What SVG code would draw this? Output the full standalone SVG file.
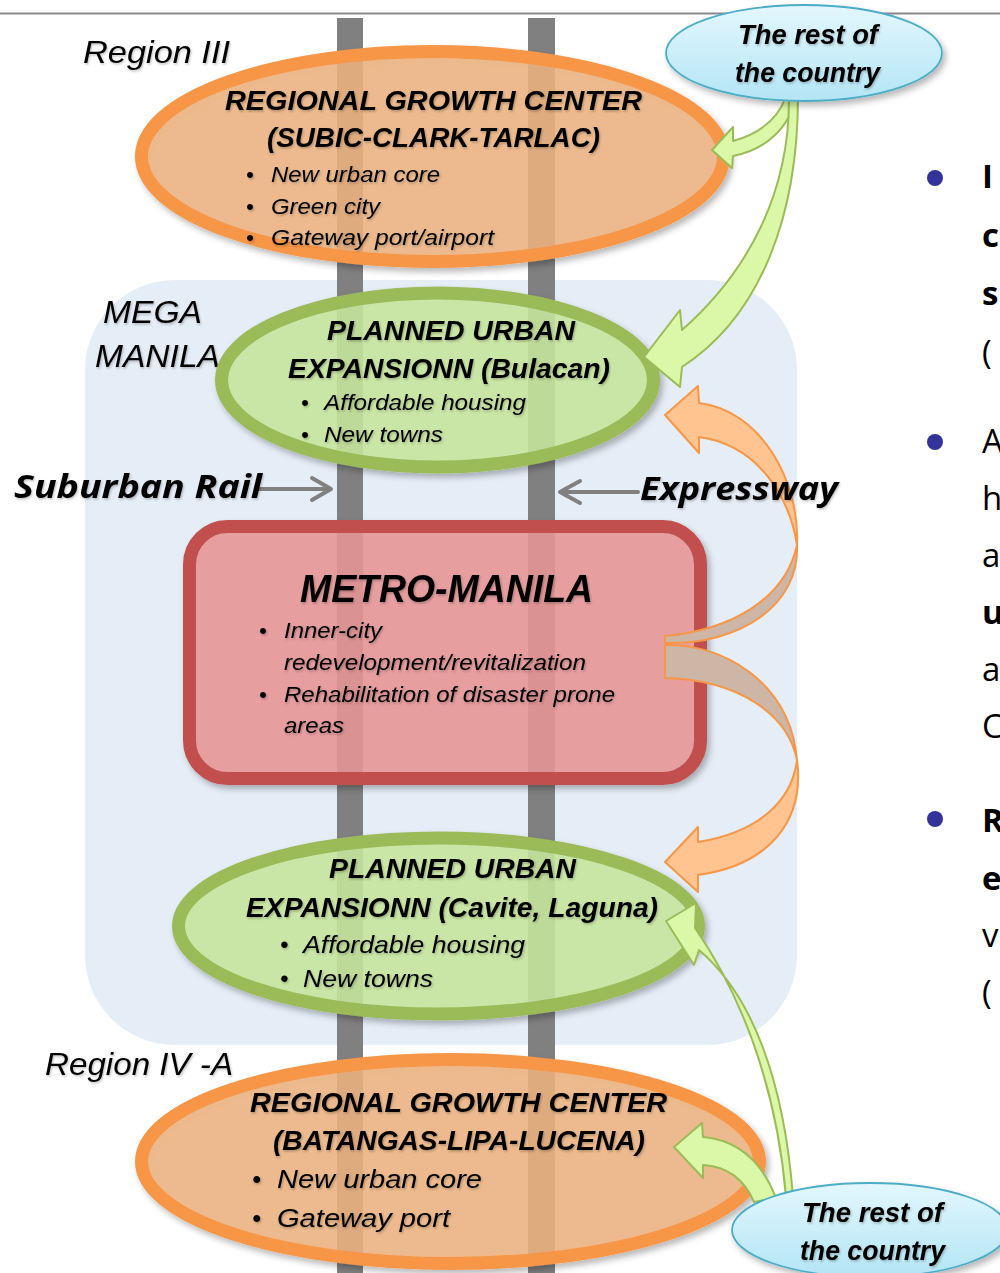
<svg xmlns="http://www.w3.org/2000/svg" width="1000" height="1273" viewBox="0 0 1000 1273">
<defs>
<style>
.t{font-family:"Liberation Sans",Arial,sans-serif;font-style:italic;fill:#000}
.ti{font-weight:bold;font-size:27px}
.lb{font-size:32px}
.b{font-size:22px}
.rail{fill:#808080}
.lbl2{font-family:"Open Sans","Noto Sans",sans-serif;font-style:italic;font-weight:bold;font-size:33px;fill:#000}
.side{font-family:"Open Sans","DejaVu Sans",sans-serif;font-size:33px;fill:#000}
.sb{font-weight:bold}
.garrow{fill:#DAF8A8;stroke:#9BBB59;stroke-width:2;stroke-linejoin:round}
.oarrow{stroke:#F79646;stroke-width:2;stroke-linejoin:round}
.ptr{fill:none;stroke:#808080;stroke-width:4;stroke-linecap:round;stroke-linejoin:round}
.oell{fill:#EFB481;fill-opacity:0.85;stroke:#F79646;stroke-width:13}
.gell{fill:#CAEA9F;fill-opacity:0.85;stroke:#9BBB59;stroke-width:13}
.bell{fill:url(#blue);stroke:#4BACC6;stroke-width:1.8}
.dot{fill:#333399}
</style>
<filter id="sh" x="-10%" y="-10%" width="125%" height="130%"><feDropShadow dx="3" dy="4" stdDeviation="3" flood-color="#000" flood-opacity="0.28"/></filter>
<filter id="ts" x="-5%" y="-20%" width="115%" height="150%"><feDropShadow dx="1" dy="1.5" stdDeviation="0.8" flood-color="#000" flood-opacity="0.25"/></filter>
<linearGradient id="blue" x1="0" y1="0" x2="0" y2="1"><stop offset="0" stop-color="#E3F7FD"/><stop offset="1" stop-color="#B3E5F5"/></linearGradient>
<linearGradient id="og1" gradientUnits="userSpaceOnUse" x1="0" y1="380" x2="0" y2="650"><stop offset="0" stop-color="#FFC48F"/><stop offset="0.56" stop-color="#FFC48F"/><stop offset="0.62" stop-color="#CDB6A5"/><stop offset="1" stop-color="#CDB6A5"/></linearGradient>
<linearGradient id="og2" gradientUnits="userSpaceOnUse" x1="0" y1="640" x2="0" y2="900"><stop offset="0" stop-color="#CDB6A5"/><stop offset="0.44" stop-color="#CDB6A5"/><stop offset="0.5" stop-color="#FFC48F"/><stop offset="1" stop-color="#FFC48F"/></linearGradient>
</defs>
<rect x="0" y="0" width="1000" height="1273" fill="#fff"/>
<line x1="0" y1="13.5" x2="1000" y2="13.5" stroke="#8a8a8a" stroke-width="2"/>

<g id="mega-manila">
<rect x="85" y="280" width="712" height="765" rx="90" fill="#E5EDF7"/>
</g>

<g id="rails">
<rect class="rail" x="337" y="18" width="26" height="1255"/>
<rect class="rail" x="528" y="18" width="27" height="1255"/>
</g>

<g id="region-labels" filter="url(#ts)">
<text class="t lb" x="83" y="63" textLength="147" lengthAdjust="spacingAndGlyphs">Region III</text>
<text class="t lb" x="103" y="323" textLength="99" lengthAdjust="spacingAndGlyphs">MEGA</text>
<text class="t lb" x="95" y="367" textLength="125" lengthAdjust="spacingAndGlyphs">MANILA</text>
<text class="t lb" x="45" y="1075" textLength="188" lengthAdjust="spacingAndGlyphs">Region IV -A</text>
</g>

<g id="rgc-north">
<ellipse class="oell" cx="432.5" cy="156.5" rx="291" ry="105" filter="url(#sh)"/>
<g filter="url(#ts)">
<text class="t ti" x="225" y="110" textLength="417" lengthAdjust="spacingAndGlyphs">REGIONAL GROWTH CENTER</text>
<text class="t ti" x="267" y="147" textLength="333" lengthAdjust="spacingAndGlyphs">(SUBIC-CLARK-TARLAC)</text>
<text class="t b" x="246" y="182">•</text>
<text class="t b" x="271" y="182" textLength="169" lengthAdjust="spacingAndGlyphs">New urban core</text>
<text class="t b" x="246" y="214">•</text>
<text class="t b" x="271" y="214" textLength="109" lengthAdjust="spacingAndGlyphs">Green city</text>
<text class="t b" x="246" y="245">•</text>
<text class="t b" x="271" y="245" textLength="223" lengthAdjust="spacingAndGlyphs">Gateway port/airport</text>
</g>
</g>

<g id="pue-bulacan">
<ellipse class="gell" cx="437.5" cy="380" rx="216" ry="87" filter="url(#sh)"/>
<g filter="url(#ts)">
<text class="t ti" x="327" y="340" textLength="248" lengthAdjust="spacingAndGlyphs">PLANNED URBAN</text>
<text class="t ti" x="288" y="378" textLength="322" lengthAdjust="spacingAndGlyphs">EXPANSIONN (Bulacan)</text>
<text class="t b" x="301" y="410">•</text>
<text class="t b" x="324" y="410" textLength="202" lengthAdjust="spacingAndGlyphs">Affordable housing</text>
<text class="t b" x="301" y="442">•</text>
<text class="t b" x="324" y="442" textLength="119" lengthAdjust="spacingAndGlyphs">New towns</text>
</g>
</g>

<g id="metro-manila">
<rect x="189.5" y="526.5" width="511" height="252" rx="38" fill="#EB9697" fill-opacity="0.85" stroke="#C0504D" stroke-width="13" filter="url(#sh)"/>
<g filter="url(#ts)">
<text class="t" x="300" y="602" font-size="38" font-weight="bold" textLength="293" lengthAdjust="spacingAndGlyphs">METRO-MANILA</text>
<text class="t b" x="259" y="638">•</text>
<text class="t b" x="284" y="638" textLength="98" lengthAdjust="spacingAndGlyphs">Inner-city</text>
<text class="t b" x="284" y="670" textLength="302" lengthAdjust="spacingAndGlyphs">redevelopment/revitalization</text>
<text class="t b" x="259" y="702">•</text>
<text class="t b" x="284" y="702" textLength="331" lengthAdjust="spacingAndGlyphs">Rehabilitation of disaster prone</text>
<text class="t b" x="284" y="733" textLength="60" lengthAdjust="spacingAndGlyphs">areas</text>
</g>
</g>

<g id="pue-cavite-laguna">
<ellipse class="gell" cx="438.5" cy="926" rx="260" ry="88" filter="url(#sh)"/>
<g filter="url(#ts)">
<text class="t ti" x="329" y="878" textLength="247" lengthAdjust="spacingAndGlyphs">PLANNED URBAN</text>
<text class="t ti" x="246" y="917" textLength="412" lengthAdjust="spacingAndGlyphs">EXPANSIONN (Cavite, Laguna)</text>
<text class="t" font-size="24" x="280" y="953">•</text>
<text class="t" font-size="24" x="303" y="953" textLength="222" lengthAdjust="spacingAndGlyphs">Affordable housing</text>
<text class="t" font-size="24" x="280" y="987">•</text>
<text class="t" font-size="24" x="303" y="987" textLength="130" lengthAdjust="spacingAndGlyphs">New towns</text>
</g>
</g>

<g id="rgc-south">
<ellipse class="oell" cx="450.5" cy="1161.5" rx="309" ry="102" filter="url(#sh)"/>
<g filter="url(#ts)">
<text class="t ti" x="250" y="1112" textLength="417" lengthAdjust="spacingAndGlyphs">REGIONAL GROWTH CENTER</text>
<text class="t ti" x="273" y="1150" textLength="372" lengthAdjust="spacingAndGlyphs">(BATANGAS-LIPA-LUCENA)</text>
<text class="t" font-size="26" x="252" y="1188">•</text>
<text class="t" font-size="26" x="277" y="1188" textLength="205" lengthAdjust="spacingAndGlyphs">New urban core</text>
<text class="t" font-size="26" x="252" y="1227">•</text>
<text class="t" font-size="26" x="277" y="1227" textLength="173" lengthAdjust="spacingAndGlyphs">Gateway port</text>
</g>
</g>

<g id="connectors">
<path class="ptr" d="M257 489 L330 489 M312 478 L331 489 L312 500"/>
<path class="ptr" d="M638 492 L561 492 M580 481 L560 492 L580 503"/>
<path class="oarrow" fill="url(#og1)" d="M665 636 C730 630 785 600 797 545 C800 480 760 410 699 403 L698 386 L665 415 L699 453 L699 437 C760 445 790 500 797 545 C800 605 740 645 665 643 Z"/>
<path class="oarrow" fill="url(#og2)" d="M665 645 C720 643 790 680 797 760 C792 800 760 832 698 842 L698 827 L665 862 L698 892 L698 875 C770 865 805 820 797 760 C788 715 740 680 665 678 Z"/>
<path class="garrow" d="M786 96 C778 120 758 134 733 141 L733 127 L712 150 L732 168 L733 156 C765 150 790 128 796 96 Z"/>
<path class="garrow" d="M789 96 C790 190 750 270 682 330 L680 310 L644 357 L680 387 L682 367 C758 318 798 220 798 96 Z"/>
<path class="garrow" d="M776 1198 C762 1162 738 1140 703 1137 L702 1123 L674 1147 L703 1178 L703 1165 C727 1166 745 1180 754 1202 Z"/>
<path class="garrow" d="M786 1197 C776 1080 738 990 695 928 L696 903 L666 921 L694 965 L699 950 C752 995 784 1080 793 1197 Z"/>
</g>

<g id="route-labels" filter="url(#ts)">
<text class="lbl2" x="14" y="498" textLength="248" lengthAdjust="spacingAndGlyphs">Suburban Rail</text>
<text class="lbl2" x="640" y="500" textLength="198" lengthAdjust="spacingAndGlyphs">Expressway</text>
</g>

<g id="rest-north">
<ellipse class="bell" cx="804" cy="53" rx="138" ry="48" filter="url(#sh)"/>
<g filter="url(#ts)">
<text class="t" font-size="28" font-weight="bold" x="738" y="44" textLength="140" lengthAdjust="spacingAndGlyphs">The rest of</text>
<text class="t" font-size="28" font-weight="bold" x="735" y="82" textLength="145" lengthAdjust="spacingAndGlyphs">the country</text>
</g>
</g>

<g id="rest-south">
<ellipse class="bell" cx="870" cy="1230" rx="138" ry="47" filter="url(#sh)"/>
<g filter="url(#ts)">
<text class="t" font-size="28" font-weight="bold" x="802" y="1222" textLength="141" lengthAdjust="spacingAndGlyphs">The rest of</text>
<text class="t" font-size="28" font-weight="bold" x="800" y="1260" textLength="145" lengthAdjust="spacingAndGlyphs">the country</text>
</g>
</g>

<g id="side-text">
<circle class="dot" cx="935" cy="178" r="8"/>
<circle class="dot" cx="935" cy="442" r="8"/>
<circle class="dot" cx="935" cy="819" r="8"/>
<text class="side sb" x="982" y="188">I</text>
<text class="side sb" x="982" y="247">c</text>
<text class="side sb" x="982" y="305">s</text>
<text class="side" x="982" y="364">(</text>
<text class="side" x="982" y="453">A</text>
<text class="side" x="982" y="510">h</text>
<text class="side" x="982" y="567">a</text>
<text class="side sb" x="982" y="624">u</text>
<text class="side" x="982" y="681">a</text>
<text class="side" x="982" y="738">C</text>
<text class="side sb" x="982" y="832">R</text>
<text class="side sb" x="982" y="890">e</text>
<text class="side" x="982" y="947">v</text>
<text class="side" x="982" y="1004">(</text>
</g>
</svg>
